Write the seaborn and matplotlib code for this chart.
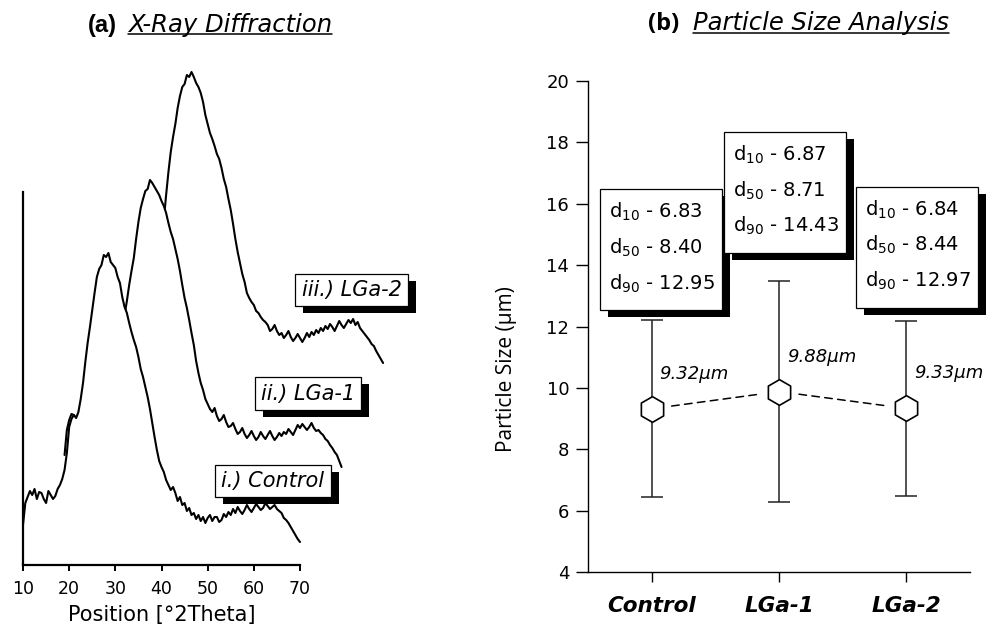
import numpy as np
import pandas as pd
import matplotlib
matplotlib.use("Agg")
import matplotlib.pyplot as plt
import matplotlib.transforms as mtransforms
import matplotlib.patheffects as pe
from matplotlib.patches import Rectangle
from matplotlib.lines import Line2D
import seaborn as sns

# ---------------- data ----------------
# XRD patterns (2theta 10-70 deg, 0.5 deg steps), intensity in arbitrary units
two_theta = np.arange(10, 70.01, 0.5)
xrd_control = [40, 62, 68, 74, 70, 76, 66, 73, 72, 66,
               62, 74, 70, 66, 69, 76, 80, 86, 95, 112,
               138, 146, 150, 147, 153, 166, 182, 203, 222, 238,
               255, 272, 288, 296, 300, 310, 308, 312, 303, 300,
               297, 288, 282, 268, 258, 252, 242, 233, 225, 218,
               208, 196, 188, 178, 168, 156, 142, 128, 115, 104,
               98, 93, 85, 80, 75, 78, 72, 64, 68, 60,
               62, 54, 57, 50, 52, 46, 50, 44, 48, 42,
               47, 50, 44, 48, 48, 43, 45, 51, 48, 53,
               50, 56, 52, 58, 54, 51, 55, 60, 56, 53,
               57, 61, 58, 55, 57, 62, 59, 56, 58, 60,
               56, 54, 52, 47, 45, 42, 38, 34, 30, 26,
               23]
xrd_lga1 = [30, 55, 65, 71, 70, 66, 68, 74, 72, 67,
            70, 76, 75, 72, 80, 84, 90, 98, 110, 122,
            135, 141, 145, 149, 152, 160, 170, 184, 200, 214,
            227, 246, 263, 277, 286, 294, 296, 305, 302, 298,
            294, 290, 284, 279, 272, 262, 253, 246, 236, 226,
            214, 200, 187, 177, 165, 152, 140, 124, 112, 102,
            95, 86, 81, 76, 73, 77, 69, 64, 66, 70,
            63, 58, 59, 62, 56, 51, 53, 57, 51, 47,
            50, 54, 49, 45, 48, 53, 49, 46, 50, 54,
            49, 45, 48, 52, 49, 53, 51, 56, 53, 50,
            55, 60, 57, 61, 58, 55, 58, 62, 57, 54,
            55, 52, 50, 46, 44, 40, 37, 33, 30, 24,
            18]
xrd_lga2 = [30, 55, 65, 71, 70, 66, 68, 74, 72, 67,
            70, 75, 73, 71, 78, 84, 90, 99, 110, 122,
            135, 140, 145, 150, 158, 185, 210, 233, 253, 268,
            281, 297, 309, 318, 321, 330, 328, 333, 328, 322,
            318, 312, 303, 290, 281, 272, 266, 259, 251, 246,
            237, 226, 218, 206, 195, 181, 166, 153, 142, 131,
            123, 112, 107, 103, 100, 94, 92, 88, 85, 83,
            80, 74, 76, 80, 74, 70, 72, 67, 70, 74,
            68, 64, 67, 71, 67, 63, 67, 72, 68, 73,
            70, 75, 72, 77, 74, 79, 76, 81, 78, 74,
            79, 84, 80, 77, 81, 85, 82, 86, 80, 83,
            77, 74, 71, 68, 65, 61, 59, 54, 50, 46,
            42]
xrd_labels = ["i.) Control", "ii.) LGa-1", "iii.) LGa-2"]

# Particle size results
samples = ["Control", "LGa-1", "LGa-2"]
mean_size = [9.32, 9.88, 9.33]
sd_size = [2.88, 3.59, 2.85]
d10 = [6.83, 6.87, 6.84]
d50 = [8.40, 8.71, 8.44]
d90 = [12.95, 14.43, 12.97]

# ---------------- layout / style ----------------
W, H = 991, 632
DPI = 100
stack_dx = 9.0      # horizontal shift between stacked patterns (deg)
stack_dy = 80.0     # vertical shift between stacked patterns (a.u.)

sns.set_theme(style="ticks")
plt.rcParams["font.family"] = ["DejaVu Sans"]
plt.rcParams["mathtext.fontset"] = "dejavusans"
plt.rcParams["text.color"] = "black"
plt.rcParams["axes.labelcolor"] = "black"

fig = plt.figure(figsize=(W / DPI, H / DPI), dpi=DPI)
fig.patch.set_facecolor("white")

box_shadow = [pe.SimplePatchShadow(offset=(5.8, -5.0), shadow_rgbFace="black", alpha=1.0),
              pe.Normal()]

# ===== (a) X-ray diffraction =====
axa = fig.add_axes([23 / W, (H - 565) / H, 277 / W, 505 / H])
axa.set_facecolor("none")
patterns = [xrd_control, xrd_lga1, xrd_lga2]
for k in range(len(patterns) - 1, -1, -1):
    xs = two_theta + k * stack_dx
    ys = np.asarray(patterns[k], dtype=float) + k * stack_dy
    z = 3 - k
    # white fill under each trace hides the traces stacked behind it
    axa.fill_between(xs, 0, ys, color="white", lw=0, zorder=z - 0.5, clip_on=False)
    sns.lineplot(x=xs, y=ys, ax=axa, color="black", lw=1.5, estimator=None,
                 sort=False, clip_on=False, zorder=z)

axa.set_xlim(10, 70)
axa.set_ylim(0, 505)
axa.set_xticks(np.arange(10, 71, 10))
axa.set_yticks([])
for side in ["top", "right"]:
    axa.spines[side].set_visible(False)
axa.spines["left"].set_bounds(0, 373)
for side in ["left", "bottom"]:
    axa.spines[side].set_linewidth(1.6)
    axa.spines[side].set_color("black")
    axa.spines[side].set_zorder(6)
axa.tick_params(axis="x", direction="out", length=4, width=1.4, color="black",
                labelsize=12.5, pad=7, labelcolor="black")
axa.set_xlabel("Position [°2Theta]", fontsize=15, labelpad=5, color="black")

label_anchor = [(64.1, 84), (71.7, 171.3), (81.15, 275)]
for txt, (lx, ly) in zip(xrd_labels, label_anchor):
    axa.text(lx, ly, txt, ha="center", va="center", fontsize=15, style="italic",
             color="black", zorder=10, clip_on=False,
             bbox=dict(boxstyle="square,pad=0.3", fc="white", ec="black", lw=0.9,
                       path_effects=box_shadow))

# ===== (b) Particle size =====
axb = fig.add_axes([588 / W, (H - 572) / H, 382 / W, 491 / H])
axb.set_facecolor("none")
pos = np.arange(len(samples))

axb.errorbar(pos, mean_size, yerr=sd_size, fmt="none", ecolor="#222222",
             elinewidth=1.1, capsize=8, capthick=1.1, zorder=3)
for i in range(len(pos) - 1):
    axb.annotate("", xy=(pos[i + 1], mean_size[i + 1]), xytext=(pos[i], mean_size[i]),
                 arrowprops=dict(arrowstyle="-", linestyle=(0, (5, 3.5)), lw=1.1,
                                 color="black", shrinkA=14.5, shrinkB=14.5), zorder=2)
sns.scatterplot(x=pos, y=mean_size, ax=axb, marker="h", s=18.5 ** 2,
                facecolor="white", edgecolor="black", linewidth=1.2, zorder=5)

for i, m in enumerate(mean_size):
    axb.annotate(f"{m:.2f}μm", xy=(pos[i], m), xytext=(8, 35), textcoords="offset pixels",
                 ha="left", va="center", fontsize=13, style="italic", color="black")

box_left = [-0.404, -0.431, -0.396]
box_top = [16.47, 18.34, 16.55]
box_w, box_h = 0.955, 3.94
shadow = axb.transData + mtransforms.ScaledTranslation(0.08, -0.07, fig.dpi_scale_trans)
for i in range(len(samples)):
    x0 = pos[i] + box_left[i]
    axb.add_patch(Rectangle((x0, box_top[i] - box_h), box_w, box_h, transform=shadow,
                            fc="black", ec="black", lw=0, zorder=7, clip_on=False))
    axb.add_patch(Rectangle((x0, box_top[i] - box_h), box_w, box_h,
                            fc="white", ec="black", lw=0.9, zorder=8, clip_on=False))
    lines = [f"d$_{{10}}$ - {d10[i]:.2f}", f"d$_{{50}}$ - {d50[i]:.2f}",
             f"d$_{{90}}$ - {d90[i]:.2f}"]
    for k, s in enumerate(lines):
        axb.annotate(s, xy=(x0, box_top[i]), xytext=(9, -28.5 - 35.8 * k),
                     textcoords="offset pixels", ha="left", va="baseline",
                     fontsize=14, color="black", zorder=9, annotation_clip=False)

axb.set_xlim(-0.5, 2.5)
axb.set_ylim(4, 20)
axb.set_yticks(np.arange(4, 21, 2))
axb.set_xticks(pos)
axb.set_xticklabels(samples, fontsize=15.5, fontweight="bold", style="italic")
for side in ["top", "right"]:
    axb.spines[side].set_visible(False)
for side in ["left", "bottom"]:
    axb.spines[side].set_linewidth(1.0)
    axb.spines[side].set_color("black")
axb.tick_params(axis="y", direction="out", length=8.5, width=1.0, color="black",
                labelsize=13, pad=5, labelcolor="black")
axb.tick_params(axis="x", direction="out", length=7.5, width=1.0, color="black",
                pad=9.5, labelcolor="black")
axb.set_ylabel("Particle Size (μm)", fontsize=15, family="Open Sans", color="black")
axb.yaxis.set_label_coords(-0.185, 0.413)

# ===== panel titles =====
ta = fig.text(88 / W, 1 - 31.7 / H, "(a)", family="Liberation Sans", weight="bold",
              fontsize=17, va="baseline", ha="left", color="black")
ta2 = fig.text(128 / W, 1 - 31.7 / H, "X-Ray Diffraction", style="italic",
               fontsize=17.5, va="baseline", ha="left", color="black")
tb = fig.text(648 / W, 1 - 30 / H, "(b)", family="Open Sans", weight="bold",
              fontsize=17, va="baseline", ha="left", color="black")
tb2 = fig.text(693 / W, 1 - 30 / H, "Particle Size Analysis", style="italic",
               fontsize=17.5, va="baseline", ha="left", color="black")

fig.canvas.draw()
renderer = fig.canvas.get_renderer()
for t, y_line in [(ta2, 34.3), (tb2, 32.5)]:
    bb = t.get_window_extent(renderer)
    fig.add_artist(Line2D([bb.x0 / W, bb.x1 / W], [1 - y_line / H] * 2,
                          transform=fig.transFigure, color="black", lw=1.1))

fig.savefig("out.png", dpi=DPI, facecolor="white")
